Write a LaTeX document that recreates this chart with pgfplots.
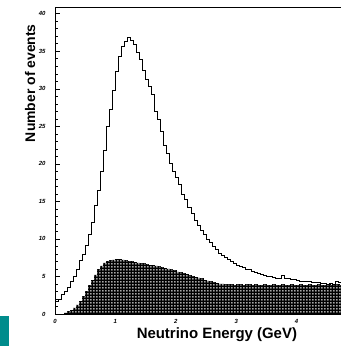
\documentclass[border=0pt]{standalone}
\usepackage{fontspec}
\setmainfont{Liberation Sans}
\usepackage{pgfplots}
\pgfplotsset{compat=1.18}
\usetikzlibrary{patterns}
\definecolor{tealbox}{RGB}{0,140,140}
\pgfdeclarepatternformonly{dashgrid}{\pgfqpoint{0pt}{0pt}}{\pgfqpoint{3bp}{3bp}}{\pgfqpoint{3bp}{3bp}}{%
  \pgfpathrectangle{\pgfqpoint{0.3bp}{0.9bp}}{\pgfqpoint{2.0bp}{1.2bp}}\pgfusepath{fill}}
\begin{document}
\begin{tikzpicture}
\path[use as bounding box] (0,0) rectangle (341bp,346bp);
\fill[tealbox] (0,0) rectangle (9bp,30bp);
\begin{axis}[
  at={(55bp,32bp)}, anchor=south west,
  scale only axis, width=286bp, height=307bp,
  xmin=0, xmax=4.735, ymin=0, ymax=40.9,
  axis x line*=bottom, axis y line*=left,
  axis line style={-, line width=0.8pt},
  tick align=inside,
  xtick={0,1,2,3,4}, ytick={0,5,...,40},
  minor y tick num=4, minor x tick num=4,
  major tick length=5bp, minor tick length=2.5bp,
  tick style={line width=0.6pt, black},
  /pgf/number format/assume math mode=true,
  ticklabel style={font=\fontsize{6}{6}\selectfont\bfseries\itshape},
  yticklabel style={xshift=-6bp},
  xticklabel style={yshift=-2bp},
  xlabel={\textbf{Neutrino Energy (GeV)}},
  ylabel={\textbf{Number of events}},
  label style={font=\fontsize{14}{14}\selectfont},
  xlabel style={at={(axis description cs:0.566,-0.068)}, anchor=center, font=\fontsize{15}{15}\selectfont},
  ylabel style={at={(axis description cs:-0.087,0.752)}, anchor=center},
  clip=true,
]
% inner (hatched) histogram
\addplot[const plot, fill=black, draw=black, line width=0.6pt] coordinates {
(0.00,0) (0.05,0) (0.10,0) (0.15,0.15) (0.20,0.3) (0.25,0.5) (0.30,0.8) (0.35,1.2)
(0.40,1.7) (0.45,2.3) (0.50,3.0) (0.55,3.8) (0.60,4.5) (0.65,5.2) (0.70,5.9) (0.75,6.4)
(0.80,6.8) (0.85,7.0) (0.90,7.1) (0.95,7.2) (1.00,7.3) (1.05,7.3) (1.10,7.2) (1.15,7.1)
(1.20,7.0) (1.25,7.0) (1.30,6.9) (1.35,6.8) (1.40,6.7) (1.45,6.7) (1.50,6.6) (1.55,6.5)
(1.60,6.5) (1.65,6.4) (1.70,6.3) (1.75,6.2) (1.80,6.1) (1.85,6.0) (1.90,5.9) (1.95,5.8)
(2.00,5.6) (2.05,5.5) (2.10,5.4) (2.15,5.3) (2.20,5.1) (2.25,5.0) (2.30,4.9) (2.35,4.8)
(2.40,4.7) (2.45,4.5) (2.50,4.4) (2.55,4.3) (2.60,4.2) (2.65,4.1) (2.70,4.0) (2.75,4.0)
(2.80,3.9) (2.85,3.9) (2.90,3.9) (2.95,3.8) (3.00,3.9) (3.05,3.9) (3.10,3.8) (3.15,3.9)
(3.20,3.9) (3.25,3.8) (3.30,3.9) (3.35,3.8) (3.40,3.8) (3.45,3.9) (3.50,3.8) (3.55,3.8)
(3.60,3.9) (3.65,3.8) (3.70,3.8) (3.75,3.9) (3.80,3.8) (3.85,3.8) (3.90,3.9) (3.95,3.8)
(4.00,3.8) (4.05,3.9) (4.10,3.8) (4.15,3.8) (4.20,3.9) (4.25,3.8) (4.30,3.8) (4.35,3.9)
(4.40,3.8) (4.45,3.8) (4.50,3.9) (4.55,3.8) (4.60,3.8) (4.65,3.9) (4.70,3.8) (4.75,3.8)
} \closedcycle;
\addplot[const plot, draw=none, pattern=dashgrid, pattern color=white] coordinates {
(0.00,0) (0.05,0) (0.10,0) (0.15,0.15) (0.20,0.3) (0.25,0.5) (0.30,0.8) (0.35,1.2)
(0.40,1.7) (0.45,2.3) (0.50,3.0) (0.55,3.8) (0.60,4.5) (0.65,5.2) (0.70,5.9) (0.75,6.4)
(0.80,6.8) (0.85,7.0) (0.90,7.1) (0.95,7.2) (1.00,7.3) (1.05,7.3) (1.10,7.2) (1.15,7.1)
(1.20,7.0) (1.25,7.0) (1.30,6.9) (1.35,6.8) (1.40,6.7) (1.45,6.7) (1.50,6.6) (1.55,6.5)
(1.60,6.5) (1.65,6.4) (1.70,6.3) (1.75,6.2) (1.80,6.1) (1.85,6.0) (1.90,5.9) (1.95,5.8)
(2.00,5.6) (2.05,5.5) (2.10,5.4) (2.15,5.3) (2.20,5.1) (2.25,5.0) (2.30,4.9) (2.35,4.8)
(2.40,4.7) (2.45,4.5) (2.50,4.4) (2.55,4.3) (2.60,4.2) (2.65,4.1) (2.70,4.0) (2.75,4.0)
(2.80,3.9) (2.85,3.9) (2.90,3.9) (2.95,3.8) (3.00,3.9) (3.05,3.9) (3.10,3.8) (3.15,3.9)
(3.20,3.9) (3.25,3.8) (3.30,3.9) (3.35,3.8) (3.40,3.8) (3.45,3.9) (3.50,3.8) (3.55,3.8)
(3.60,3.9) (3.65,3.8) (3.70,3.8) (3.75,3.9) (3.80,3.8) (3.85,3.8) (3.90,3.9) (3.95,3.8)
(4.00,3.8) (4.05,3.9) (4.10,3.8) (4.15,3.8) (4.20,3.9) (4.25,3.8) (4.30,3.8) (4.35,3.9)
(4.40,3.8) (4.45,3.8) (4.50,3.9) (4.55,3.8) (4.60,3.8) (4.65,3.9) (4.70,3.8) (4.75,3.8)
} \closedcycle;
% outer histogram
\addplot[const plot, draw=black, line width=0.8pt] coordinates {
(0.00,1.7) (0.05,2.0) (0.10,2.6) (0.15,3.0) (0.20,3.6) (0.25,4.4) (0.30,5.0) (0.35,6.0)
(0.40,7.2) (0.45,8.0) (0.50,9.2) (0.55,10.6) (0.60,12.2) (0.65,14.5) (0.70,16.5) (0.75,19.0)
(0.80,21.8) (0.85,25.0) (0.90,27.2) (0.95,29.8) (1.00,32.3) (1.05,34.3) (1.10,35.6) (1.15,36.3)
(1.20,36.9) (1.25,36.5) (1.30,35.9) (1.35,34.8) (1.40,33.9) (1.45,32.5) (1.50,31.2) (1.55,30.3)
(1.60,29.2) (1.65,27.0) (1.70,25.9) (1.75,24.3) (1.80,22.5) (1.85,21.4) (1.90,20.1) (1.95,19.0)
(2.00,18.2) (2.05,17.2) (2.10,16.0) (2.15,15.3) (2.20,14.2) (2.25,13.4) (2.30,12.5) (2.35,11.8)
(2.40,11.1) (2.45,10.6) (2.50,10.0) (2.55,9.6) (2.60,9.0) (2.65,8.6) (2.70,8.1) (2.75,7.8)
(2.80,7.6) (2.85,7.3) (2.90,7.0) (2.95,6.8) (3.00,6.5) (3.05,6.3) (3.10,6.2) (3.15,6.0)
(3.20,5.9) (3.25,5.7) (3.30,5.6) (3.35,5.4) (3.40,5.3) (3.45,5.1) (3.50,5.0) (3.55,5.0)
(3.60,4.9) (3.65,4.8) (3.70,4.8) (3.75,5.1) (3.80,4.8) (3.85,4.7) (3.90,4.6) (3.95,4.6)
(4.00,4.5) (4.05,4.4) (4.10,4.4) (4.15,4.3) (4.20,4.3) (4.25,4.2) (4.30,4.2) (4.35,4.2)
(4.40,4.1) (4.45,4.1) (4.50,4.0) (4.55,4.1) (4.60,4.0) (4.65,4.3) (4.70,4.2) (4.75,4.2)
};
\draw[line width=0.8pt] (rel axis cs:0,1) -- (rel axis cs:1,1);
\end{axis}
\end{tikzpicture}
\end{document}
